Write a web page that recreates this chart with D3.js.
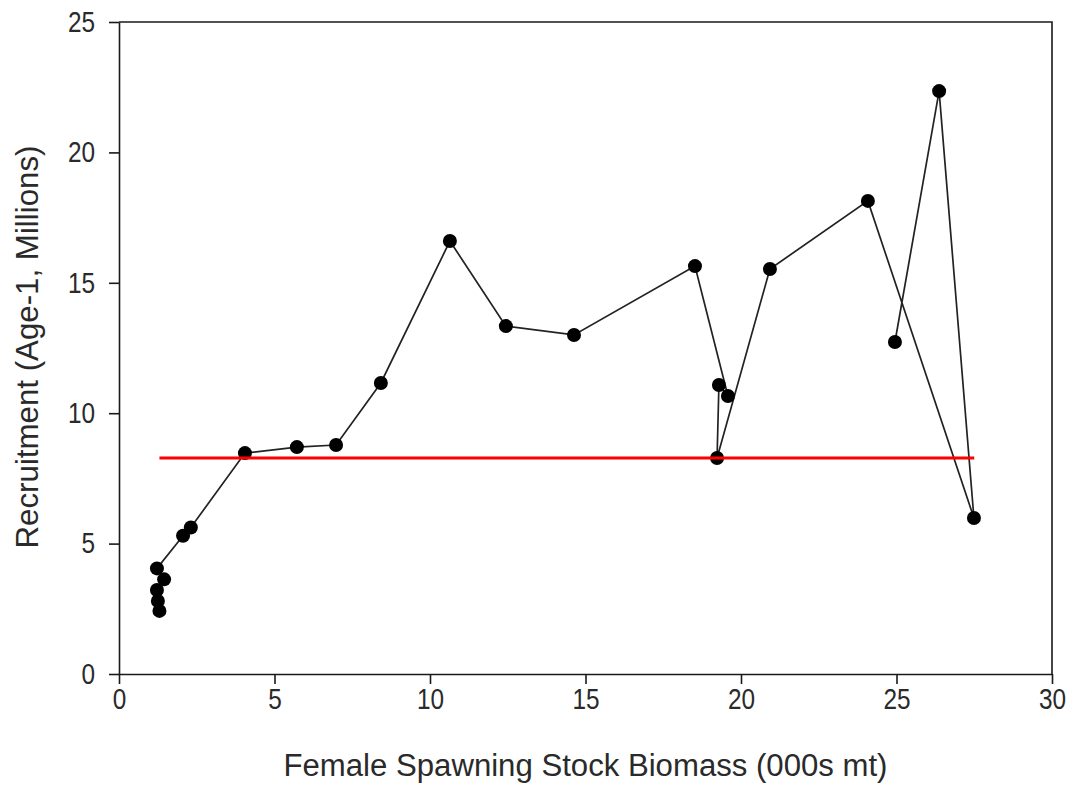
<!DOCTYPE html>
<html>
<head>
<meta charset="utf-8">
<script src="https://cdn.jsdelivr.net/npm/d3@7"></script>
<style>
  html, body { margin: 0; padding: 0; background: #fff; }
  svg { display: block; }
  text { font-family: "Liberation Sans", Arial, sans-serif; fill: #2a2a2a; }
</style>
</head>
<body>
<svg id="chart" width="1070" height="785"></svg>
<script>
// ---- data ----
const ssb = [1.30, 1.25, 1.22, 1.45, 1.22, 2.06, 2.31, 4.05, 5.72, 6.98, 8.42, 10.64, 12.44, 14.63, 18.52, 19.58, 19.29, 19.23, 20.93, 24.08, 27.49, 26.37, 24.95];
const recruits = [2.42, 2.80, 3.22, 3.63, 4.05, 5.30, 5.62, 8.47, 8.70, 8.78, 11.16, 16.60, 13.34, 13.00, 15.64, 10.66, 11.08, 8.28, 15.53, 18.14, 5.98, 22.35, 12.73];
const refX = [1.3, 27.5];
const refY = [8.28, 8.28];
const xTicks = [0, 5, 10, 15, 20, 25, 30];
const yTicks = [0, 5, 10, 15, 20, 25];
const xTitle = "Female Spawning Stock Biomass (000s mt)";
const yTitle = "Recruitment (Age-1, Millions)";

// ---- layout ----
const svg = d3.select("#chart");
const mLeft = 119, mRight = 1052, mTop = 22, mBottom = 674;
const x = d3.scaleLinear().domain([0, 30]).range([mLeft, mRight]);
const y = d3.scaleLinear().domain([0, 25]).range([mBottom, mTop]);
const axisColor = "#1a1a1a";
const squeeze = 0.84;

function compress(sel, f) {
  sel.each(function() {
    const w = this.getComputedTextLength();
    d3.select(this).attr("textLength", w * f).attr("lengthAdjust", "spacingAndGlyphs");
  });
}

// frame (top & right)
svg.append("path")
  .attr("d", `M${mLeft},${mTop}H${mRight}V${mBottom}`)
  .attr("fill", "none").attr("stroke", axisColor).attr("stroke-width", 1.6);

// x axis
const gx = svg.append("g").attr("transform", `translate(0,${mBottom})`)
  .call(d3.axisBottom(x).tickValues(xTicks).tickFormat(d3.format("d")).tickSize(10).tickPadding(4).tickSizeOuter(0));
// y axis
const gy = svg.append("g").attr("transform", `translate(${mLeft},0)`)
  .call(d3.axisLeft(y).tickValues(yTicks).tickFormat(d3.format("d")).tickSize(10).tickPadding(14).tickSizeOuter(0));

[gx, gy].forEach(g => {
  g.select(".domain").attr("stroke", axisColor).attr("stroke-width", 1.6);
  g.selectAll(".tick line").attr("stroke", axisColor).attr("stroke-width", 1.6);
  g.selectAll(".tick text").attr("font-size", 29).attr("fill", "#2a2a2a")
    .style("font-family", "'Liberation Sans', Arial, sans-serif");
  compress(g.selectAll(".tick text"), squeeze);
});

// connecting line
const pts = ssb.map((v, i) => [v, recruits[i]]);
svg.append("path")
  .datum(pts)
  .attr("d", d3.line().x(d => x(d[0])).y(d => y(d[1])))
  .attr("fill", "none").attr("stroke", "#222").attr("stroke-width", 1.7);

// markers
svg.append("g").selectAll("circle").data(pts).join("circle")
  .attr("cx", d => x(d[0])).attr("cy", d => y(d[1])).attr("r", 7)
  .attr("fill", "#000");

// reference line (red)
svg.append("path")
  .datum(refX.map((v, i) => [v, refY[i]]))
  .attr("d", d3.line().x(d => x(d[0])).y(d => y(d[1])))
  .attr("fill", "none").attr("stroke", "#ff0000").attr("stroke-width", 3);

// titles
svg.append("text")
  .attr("x", (mLeft + mRight) / 2).attr("y", 776)
  .attr("text-anchor", "middle").attr("font-size", 31)
  .attr("textLength", 604).attr("lengthAdjust", "spacingAndGlyphs")
  .text(xTitle);

svg.append("text")
  .attr("transform", `translate(38,${(mTop + mBottom) / 2 - 1}) rotate(-90)`)
  .attr("text-anchor", "middle").attr("font-size", 31)
  .attr("textLength", 403).attr("lengthAdjust", "spacingAndGlyphs")
  .text(yTitle);
</script>
</body>
</html>
